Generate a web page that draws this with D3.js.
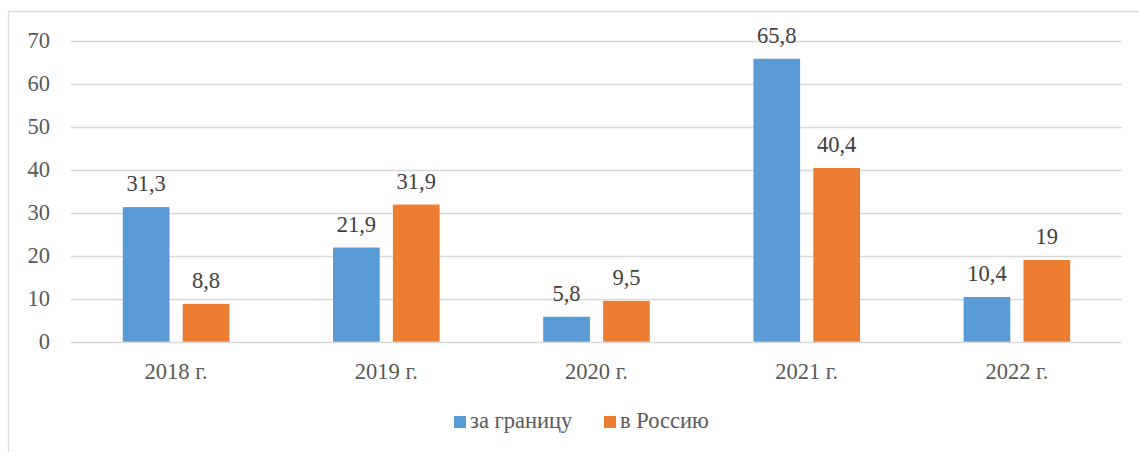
<!DOCTYPE html>
<html><head><meta charset="utf-8">
<script src="https://cdn.jsdelivr.net/npm/d3@7"></script>
</head><body><svg id="c" width="1139" height="452"></svg>
<script>
const categories = ["2018 г.", "2019 г.", "2020 г.", "2021 г.", "2022 г."];
const seriesNames = ["за границу", "в Россию"];
const abroad = [31.3, 21.9, 5.8, 65.8, 10.4];
const russia = [8.8, 31.9, 9.5, 40.4, 19];
const yTicks = [0, 10, 20, 30, 40, 50, 60, 70];
const colors = ["#5b9bd5", "#ed7d31"];

d3.select("body").style("margin", "0px");
const svg = d3.select("#c").style("display", "block");
const font = "Liberation Serif";
const FS = "22.5px";
// chart border
svg.append("rect").attr("x", 8.5).attr("y", 11.5).attr("width", 1200).attr("height", 600)
  .attr("fill", "none").attr("stroke", "#d9d9d9").attr("stroke-width", 1.3);

const x0 = d3.scaleBand().domain(categories).range([71, 1122]).paddingInner(0).paddingOuter(0);
const y = d3.scaleLinear().domain([0, 70]).range([341.7, 40.7]);
const inner = d3.scaleBand().domain(seriesNames).range([-53.3, 53.3]).paddingInner(0.22).paddingOuter(0);

// gridlines
svg.append("g").selectAll("line").data(yTicks).join("line")
  .attr("x1", 71).attr("x2", 1122)
  .attr("y1", d => Math.round(y(d)) + 0.5).attr("y2", d => Math.round(y(d)) + 0.5)
  .attr("stroke", "#d9d9d9").attr("stroke-width", 1.3);

// y tick labels
svg.append("g").selectAll("text").data(yTicks).join("text")
  .attr("x", 50).attr("y", d => y(d) + 7).attr("text-anchor", "end")
  .style("font-family", font).style("font-size", FS).attr("fill", "#595959")
  .text(d => d);

const series = [abroad, russia];
series.forEach((vals, si) => {
  const g = svg.append("g");
  g.selectAll("rect").data(vals).join("rect")
    .attr("x", (d, i) => x0(categories[i]) + x0.bandwidth() / 2 + inner(seriesNames[si]))
    .attr("width", inner.bandwidth())
    .attr("y", d => y(d)).attr("height", d => y(0) - y(d))
    .attr("fill", colors[si]);
  g.selectAll("text").data(vals).join("text")
    .attr("x", (d, i) => x0(categories[i]) + x0.bandwidth() / 2 + inner(seriesNames[si]) + inner.bandwidth() / 2)
    .attr("y", d => y(d) - 16).attr("text-anchor", "middle")
    .style("font-family", font).style("font-size", FS).attr("fill", "#404040")
    .text(d => String(d).replace(".", ","));
});

// category labels
svg.append("g").selectAll("text").data(categories).join("text")
  .attr("x", d => x0(d) + x0.bandwidth() / 2).attr("y", 379).attr("text-anchor", "middle")
  .style("font-family", font).style("font-size", FS).attr("fill", "#595959")
  .text(d => d);

// legend
const legX = [454, 604];
seriesNames.forEach((n, i) => {
  svg.append("rect").attr("x", legX[i]).attr("y", 416).attr("width", 12).attr("height", 12).attr("fill", colors[i]);
  svg.append("text").attr("x", legX[i] + 16).attr("y", 428)
    .style("font-family", font).style("font-size", FS).attr("fill", "#595959").text(n);
});
</script></body></html>
